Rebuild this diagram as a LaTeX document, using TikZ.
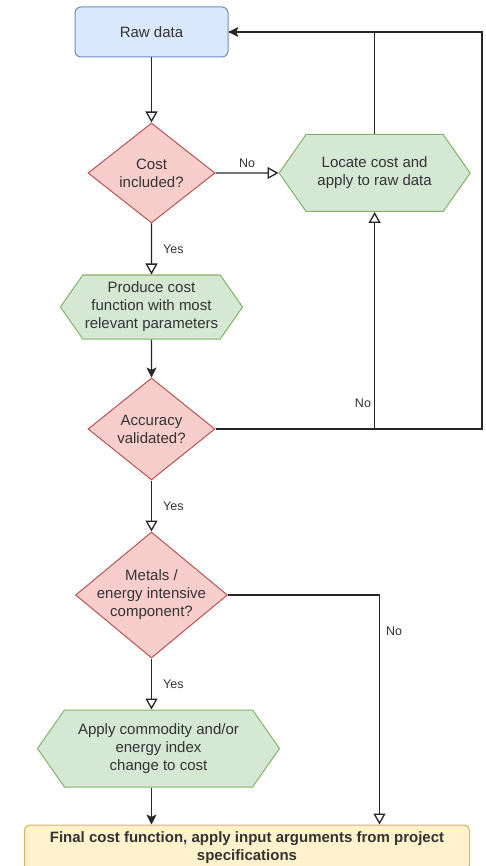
\documentclass[tikz,border=0pt]{standalone}
\usepackage{fontspec}
\setmainfont{Liberation Sans}
\usetikzlibrary{arrows.meta,shapes.geometric,shapes.symbols,positioning}
\definecolor{txt}{HTML}{333333}
\definecolor{startFill}{HTML}{DAE8FC}
\definecolor{startLine}{HTML}{6C8EBF}
\definecolor{askFill}{HTML}{F8CECC}
\definecolor{askLine}{HTML}{B85450}
\definecolor{doFill}{HTML}{D5E8D4}
\definecolor{doLine}{HTML}{82B366}
\definecolor{endFill}{HTML}{FFF2CC}
\definecolor{endLine}{HTML}{D6B656}

\begin{document}
\begin{tikzpicture}[
  x=1pt,y=1pt,
  font=\fontsize{15}{18}\selectfont,
  start/.style={draw=startLine,fill=startFill,rounded corners=6pt,line width=1pt,
                minimum width=153pt,minimum height=50pt,align=center,text=txt},
  ask/.style={diamond,draw=askLine,fill=askFill,line width=1pt,inner sep=0pt,
              label={[asktext]center:#1}},
  asktext/.style={align=center,text=txt,font=\fontsize{15}{18}\selectfont},
  act/.style={signal,signal to=west and east,signal pointer angle=110,
              draw=doLine,fill=doFill,line width=1pt,inner sep=2pt,
              align=center,text=txt},
  fin/.style={draw=endLine,fill=endFill,rounded corners=6pt,line width=1pt,
              minimum width=445pt,minimum height=46pt,align=center,text=txt,
              font=\fontsize{15}{18}\selectfont\bfseries,anchor=north},
  lbl/.style={font=\fontsize{12.5}{15}\selectfont,text=txt,inner sep=2pt},
  line/.style={draw=black!85,line width=1.3pt},
  oarr/.style={line,-{Triangle[open,fill=white,length=11pt,width=12pt]}},
  farr/.style={line,-{Stealth[length=10pt,width=10pt,inset=2.5pt]}},
]
  \useasboundingbox (0,0) rectangle (485,-866);

  \node[start] (raw) at (151.5,-32) {Raw data};

  \node[ask={Cost\\included?},minimum width=127pt,minimum height=100pt,
        below=65pt of raw] (cost) {};
  \node[act,minimum width=191pt,minimum height=77pt,right=63pt of cost] (locate)
    {Locate cost and\\apply to raw data};

  \node[act,minimum width=178pt,minimum height=64pt,below=51pt of cost] (produce)
    {Produce cost\\function with most\\relevant parameters};

  \node[ask={Accuracy\\validated?},minimum width=127pt,minimum height=102pt,
        below=38pt of produce] (acc) {};

  \node[ask={Metals /\\energy intensive\\component?},minimum width=152pt,
        minimum height=126pt,below=51pt of acc] (metals) {};

  \node[act,minimum width=242pt,minimum height=77pt,below=51pt of metals,
        xshift=7pt] (apply)
    {Apply commodity and/or\\energy index\\change to cost};

  \node[fin] (final) at ([yshift=-37pt,xshift=88.5pt]apply.south)
    {Final cost function, apply input arguments from project\\specifications};

  \coordinate (edge) at (482,0);

  \draw[oarr] (raw) -- (cost);
  \draw[oarr] (cost) -- node[lbl,above=3pt] {No} (locate);
  \draw[oarr] (cost) -- node[lbl,right=9pt] {Yes} (produce);
  \draw[farr] (produce) -- (acc);
  \draw[oarr] (acc.east) -| node[lbl,pos=0.56,left=1pt] {No} (locate.south);
  \draw[line] (locate.north) |- (raw.east);
  \draw[farr] (acc.east) -- (acc.east -| edge) |- (raw.east);
  \draw[oarr] (acc) -- node[lbl,right=9pt] {Yes} (metals);
  \draw[oarr] (metals.south) -- node[lbl,right=9pt] {Yes} (metals.south |- apply.north);
  \draw[farr] (metals.south |- apply.south) -- (metals.south |- final.north);
  \draw[oarr] (metals.east) -| node[lbl,pos=0.58,right=4pt] {No}
    ([xshift=132.5pt]final.north);
\end{tikzpicture}
\end{document}
